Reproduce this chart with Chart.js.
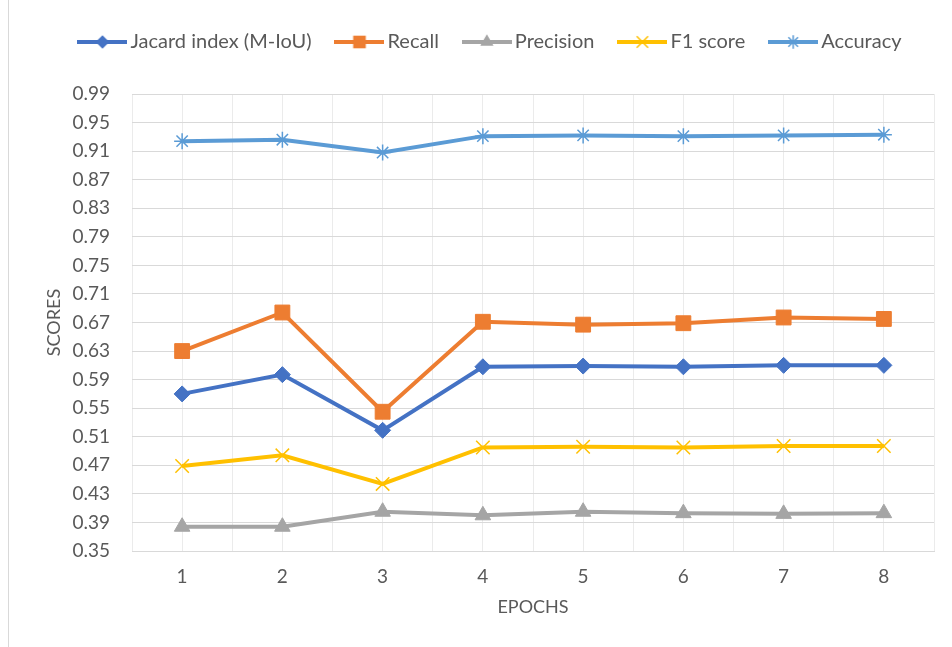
<!DOCTYPE html>
<html>
<head>
<meta charset="utf-8">
<script src="https://cdn.jsdelivr.net/npm/chart.js@4.4.1/dist/chart.umd.min.js"></script>
<style>
  html, body { margin: 0; padding: 0; background: #ffffff; }
  #wrap { position: relative; width: 952px; height: 647px; overflow: hidden; }
  #frame { position: absolute; left: 8px; top: 0; width: 1px; height: 647px; background: #d9d9d9; }
  #c { position: absolute; left: 0; top: 0; }
</style>
</head>
<body>
<div id="wrap">
  <div id="frame"></div>
  <canvas id="c" width="952" height="647"></canvas>
</div>
<script>
// Training scores per epoch
const epochs    = [1, 2, 3, 4, 5, 6, 7, 8];
const jacard    = [0.570, 0.597, 0.519, 0.608, 0.609, 0.608, 0.610, 0.610];
const recall    = [0.630, 0.684, 0.545, 0.671, 0.667, 0.669, 0.677, 0.675];
const precision = [0.384, 0.384, 0.405, 0.400, 0.405, 0.403, 0.402, 0.403];
const f1score   = [0.469, 0.484, 0.444, 0.495, 0.496, 0.495, 0.497, 0.497];
const accuracy  = [0.924, 0.926, 0.908, 0.931, 0.932, 0.931, 0.932, 0.933];

const seriesNames = ['Jacard index (M-IoU)', 'Recall', 'Precision', 'F1 score', 'Accuracy'];

// Axis ticks
const yTicks = [0.35, 0.39, 0.43, 0.47, 0.51, 0.55, 0.59, 0.63, 0.67, 0.71,
                0.75, 0.79, 0.83, 0.87, 0.91, 0.95, 0.99];
const xGridSteps = [0.5, 1, 1.5, 2, 2.5, 3, 3.5, 4, 4.5, 5, 5.5, 6, 6.5, 7, 7.5, 8, 8.5];

const FONT = 'Lato';
const TEXT = '#595959';

const styles = [
  { color: '#4472C4', shape: 'rectRot',  radius: 8,    fill: true },
  { color: '#ED7D31', shape: 'rect',     radius: 10.5, fill: true },
  { color: '#A5A5A5', shape: 'triangle', radius: 9,    fill: true },
  { color: '#FFC000', shape: 'crossRot', radius: 9.5,  fill: false },
  { color: '#5B9BD5', shape: 'star',     radius: 8,    fill: false }
];

function points(values) {
  return epochs.map((e, i) => ({ x: e, y: values[i] }));
}

// Small line + marker swatch used in the legend
function makeSwatch(st) {
  const w = 50, h = 20;
  const cv = document.createElement('canvas');
  cv.width = w; cv.height = h;
  const g = cv.getContext('2d');
  const cx = w / 2, cy = h / 2;
  g.strokeStyle = st.color;
  g.fillStyle = st.color;
  g.lineWidth = 4;
  g.beginPath(); g.moveTo(0, cy); g.lineTo(w, cy); g.stroke();
  g.lineWidth = 1.5;
  const r = st.radius * 0.85;
  g.beginPath();
  if (st.shape === 'rectRot') {
    g.moveTo(cx, cy - r); g.lineTo(cx + r, cy); g.lineTo(cx, cy + r); g.lineTo(cx - r, cy); g.closePath();
    g.fill();
  } else if (st.shape === 'rect') {
    const s = r * Math.SQRT1_2;
    g.rect(cx - s, cy - s, 2 * s, 2 * s); g.fill();
  } else if (st.shape === 'triangle') {
    const hw = r * Math.sin(Math.PI / 3);
    g.moveTo(cx, cy - r); g.lineTo(cx + hw, cy + r / 2); g.lineTo(cx - hw, cy + r / 2); g.closePath();
    g.fill();
  } else if (st.shape === 'crossRot') {
    const s = r * Math.SQRT1_2;
    g.moveTo(cx - s, cy - s); g.lineTo(cx + s, cy + s);
    g.moveTo(cx + s, cy - s); g.lineTo(cx - s, cy + s);
    g.stroke();
  } else if (st.shape === 'star') {
    const s = r * Math.SQRT1_2;
    g.moveTo(cx, cy - r); g.lineTo(cx, cy + r);
    g.moveTo(cx - s, cy - s); g.lineTo(cx + s, cy + s);
    g.moveTo(cx + s, cy - s); g.lineTo(cx - s, cy + s);
    g.stroke();
  }
  return cv;
}

function draw() {
  const swatches = styles.map(makeSwatch);
  const values = [jacard, recall, precision, f1score, accuracy];

  const datasets = values.map((v, i) => ({
    label: seriesNames[i],
    data: points(v),
    borderColor: styles[i].color,
    backgroundColor: styles[i].color,
    borderWidth: 4,
    tension: 0,
    pointStyle: styles[i].shape,
    pointRadius: styles[i].radius,
    pointHoverRadius: styles[i].radius,
    pointBackgroundColor: styles[i].color,
    pointBorderColor: styles[i].color,
    pointBorderWidth: styles[i].fill ? 1 : 1.5
  }));

  // Fixed legend band height, legend block nudged to sit over the plot
  const legendBox = {
    id: 'legendBox',
    beforeInit(chart) {
      const fit = chart.legend.fit;
      chart.legend.fit = function () {
        fit.call(this);
        this.height = 92;
      };
    },
    afterLayout(chart) {
      chart.legend.left += 26;
      chart.legend.right += 26;
    }
  };

  new Chart(document.getElementById('c'), {
    type: 'line',
    data: { datasets },
    plugins: [legendBox],
    options: {
      responsive: false,
      animation: false,
      devicePixelRatio: 1,
      layout: { padding: { top: 2, left: 0, right: 18, bottom: 0 } },
      font: { family: FONT, size: 18 },
      plugins: {
        tooltip: { enabled: false },
        legend: {
          position: 'top',
          align: 'center',
          labels: {
            usePointStyle: true,
            pointStyleWidth: 36,
            boxHeight: 20,
            padding: 30,
            color: TEXT,
            font: { family: FONT, size: 20 },
            generateLabels(chart) {
              return Chart.defaults.plugins.legend.labels.generateLabels(chart)
                .map((l, i) => Object.assign(l, { pointStyle: swatches[i] }));
            }
          }
        }
      },
      scales: {
        x: {
          type: 'linear',
          min: 0.5,
          max: 8.5,
          afterBuildTicks(scale) { scale.ticks = xGridSteps.map(v => ({ value: v })); },
          afterFit(scale) { scale.height = 96; },
          grid: { color: '#ebebeb', lineWidth: 1, drawTicks: false },
          border: { display: true, color: '#d9d9d9', width: 1 },
          ticks: {
            autoSkip: false,
            maxRotation: 0,
            padding: 14,
            color: TEXT,
            font: { family: FONT, size: 19 },
            callback: v => Number.isInteger(v) ? String(v) : ''
          },
          title: {
            display: true,
            text: 'EPOCHS',
            color: TEXT,
            font: { family: FONT, size: 18 },
            padding: { top: 0, bottom: 29 }
          }
        },
        y: {
          type: 'linear',
          min: 0.35,
          max: 0.99,
          afterBuildTicks(scale) { scale.ticks = yTicks.map(v => ({ value: v })); },
          afterFit(scale) { scale.width = 132; },
          grid: { color: '#d9d9d9', lineWidth: 1, drawTicks: false },
          border: { display: false },
          ticks: {
            padding: 22,
            color: TEXT,
            font: { family: FONT, size: 19 },
            callback: v => Number(v).toFixed(2)
          },
          title: {
            display: true,
            text: 'SCORES',
            color: TEXT,
            font: { family: FONT, size: 18 },
            padding: { top: 43, bottom: 0 }
          }
        }
      }
    }
  });
}

if (document.fonts && document.fonts.load) {
  Promise.all([document.fonts.load('18px ' + FONT), document.fonts.load('20px ' + FONT)]).then(draw, draw);
} else {
  draw();
}
</script>
</body>
</html>
